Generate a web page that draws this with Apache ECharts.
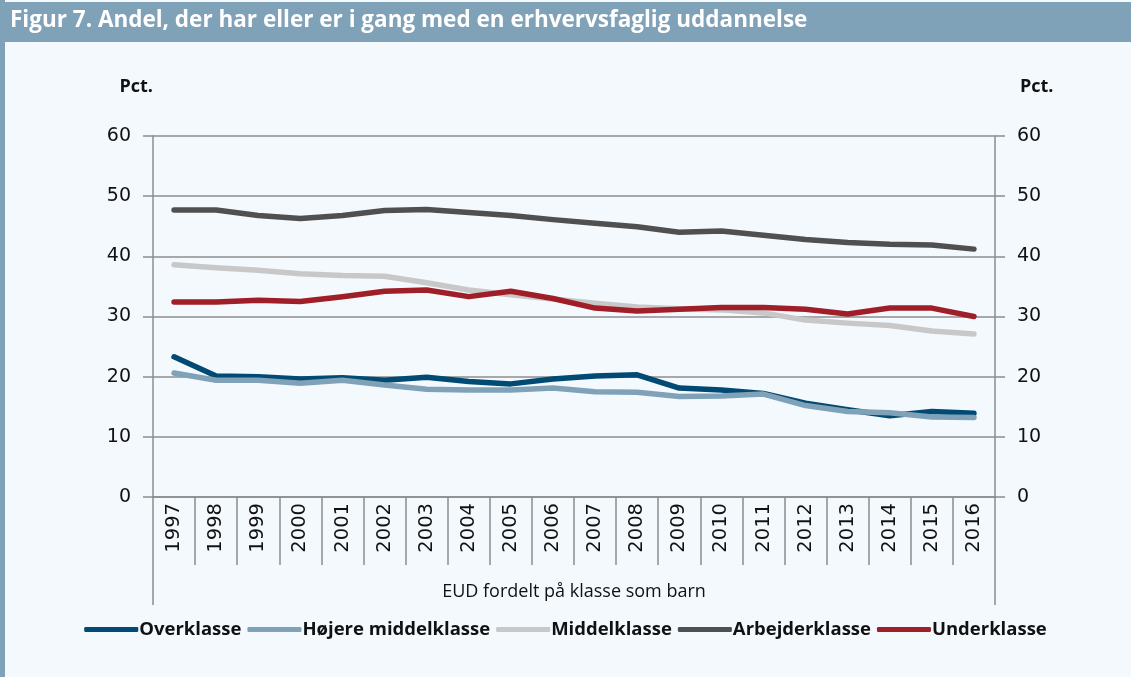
<!DOCTYPE html>
<html>
<head>
<meta charset="utf-8">
<script src="https://cdn.jsdelivr.net/npm/echarts@6/dist/echarts.min.js"></script>
<style>
  html, body { margin: 0; padding: 0; background: #f4f9fe; }
  #chart { width: 1131px; height: 677px; }
</style>
</head>
<body>
<div id="chart"></div>
<script>
  // data
  const years = ['1997', '1998', '1999', '2000', '2001', '2002', '2003', '2004', '2005', '2006',
    '2007', '2008', '2009', '2010', '2011', '2012', '2013', '2014', '2015', '2016']
  const overklasse = [23.3, 20.1, 20.0, 19.6, 19.8, 19.4, 19.9, 19.2, 18.8, 19.6,
    20.1, 20.3, 18.1, 17.8, 17.2, 15.6, 14.5, 13.5, 14.2, 13.9]
  const hojereMiddel = [20.6, 19.4, 19.4, 18.9, 19.4, 18.6, 17.9, 17.8, 17.8, 18.1,
    17.5, 17.4, 16.7, 16.8, 17.1, 15.2, 14.2, 14.0, 13.3, 13.2]
  const middelklasse = [38.6, 38.1, 37.7, 37.1, 36.8, 36.7, 35.6, 34.4, 33.6, 32.9,
    32.2, 31.6, 31.3, 31.1, 30.6, 29.4, 28.9, 28.5, 27.6, 27.1]
  const arbejderklasse = [47.7, 47.7, 46.8, 46.3, 46.8, 47.6, 47.8, 47.3, 46.8, 46.1,
    45.5, 44.9, 44.0, 44.2, 43.5, 42.8, 42.3, 42.0, 41.9, 41.2]
  const underklasse = [32.4, 32.4, 32.7, 32.5, 33.3, 34.2, 34.4, 33.3, 34.2, 33.0,
    31.4, 30.9, 31.2, 31.5, 31.5, 31.2, 30.4, 31.4, 31.4, 30.0]

  const gray = '#8c8c8c'
  const font = '"Open Sans", sans-serif'
  const numFont = '"DejaVu Sans", sans-serif'

  const mkLine = (name, data, color) => ({
    name,
    type: 'line',
    data,
    symbol: 'none',
    color,
    lineStyle: { width: 5.5, color, cap: 'round', join: 'round' }
  })

  const yAxisBase = {
    type: 'value',
    min: 0,
    max: 60,
    interval: 10,
    name: 'Pct.',
    nameLocation: 'end',
    nameGap: 40,
    axisLine: { show: true, lineStyle: { color: gray, width: 1.5 } },
    axisTick: { show: true, length: 10, lineStyle: { color: gray, width: 1.5 } },
    axisLabel: { color: '#111', fontSize: 19, fontFamily: numFont, margin: 22 }
  }

  const chart = echarts.init(document.getElementById('chart'))
  chart.setOption({
    backgroundColor: '#f4f9fe',
    animation: false,
    graphic: [
      { type: 'rect', left: 0, top: 2, shape: { width: 1131, height: 40 }, style: { fill: '#7fa2b8' } },
      { type: 'rect', left: 0, top: 0, shape: { width: 5, height: 677 }, style: { fill: '#7fa2b8' } },
      {
        type: 'text', left: 10, top: 9,
        style: {
          text: 'Figur 7. Andel, der har eller er i gang med en erhvervsfaglig uddannelse',
          fill: '#fff', font: 'bold 22.5px "Open Sans", sans-serif'
        }
      }
    ],
    grid: { left: 153, right: 136, top: 136, bottom: 180 },
    legend: {
      bottom: 33,
      left: 'center',
      icon: 'roundRect',
      itemWidth: 54,
      itemHeight: 5,
      itemGap: 6,
      textStyle: { color: '#111', fontSize: 18.5, fontWeight: 'bold', fontFamily: font, padding: [0, 0, 0, -4] },
      data: ['Overklasse', 'Højere middelklasse', 'Middelklasse', 'Arbejderklasse', 'Underklasse']
    },
    xAxis: [
      {
        type: 'category',
        data: years,
        boundaryGap: true,
        axisLine: { show: true, lineStyle: { color: gray, width: 1.5 } },
        axisTick: { show: true, interval: 0, length: 68, lineStyle: { color: gray, width: 1.5 } },
        axisLabel: { rotate: 90, interval: 0, color: '#111', fontSize: 19.5, fontFamily: numFont, margin: 6 }
      },
      {
        type: 'category',
        data: [''],
        position: 'bottom',
        boundaryGap: true,
        name: 'EUD fordelt på klasse som barn',
        nameLocation: 'middle',
        nameGap: 86,
        nameTextStyle: { color: '#111', fontSize: 18, fontFamily: font },
        axisLine: { show: false },
        axisTick: { show: true, interval: 0, length: 108, lineStyle: { color: gray, width: 1.5 } },
        axisLabel: { show: false }
      }
    ],
    yAxis: [
      {
        ...yAxisBase,
        position: 'left',
        nameTextStyle: { color: '#111', fontSize: 18, fontWeight: 'bold', fontFamily: font, align: 'right', padding: [0, 0, 0, 0] },
        splitLine: { show: true, lineStyle: { color: gray, width: 1.5 } }
      },
      {
        ...yAxisBase,
        position: 'right',
        nameTextStyle: { color: '#111', fontSize: 18, fontWeight: 'bold', fontFamily: font, align: 'left', padding: [0, 0, 0, 25] },
        splitLine: { show: false }
      }
    ],
    series: [
      mkLine('Overklasse', overklasse, '#004a73'),
      mkLine('Højere middelklasse', hojereMiddel, '#7fa2b8'),
      mkLine('Middelklasse', middelklasse, '#c8c8c8'),
      mkLine('Arbejderklasse', arbejderklasse, '#505050'),
      mkLine('Underklasse', underklasse, '#a01e28')
    ]
  })
</script>
</body>
</html>
